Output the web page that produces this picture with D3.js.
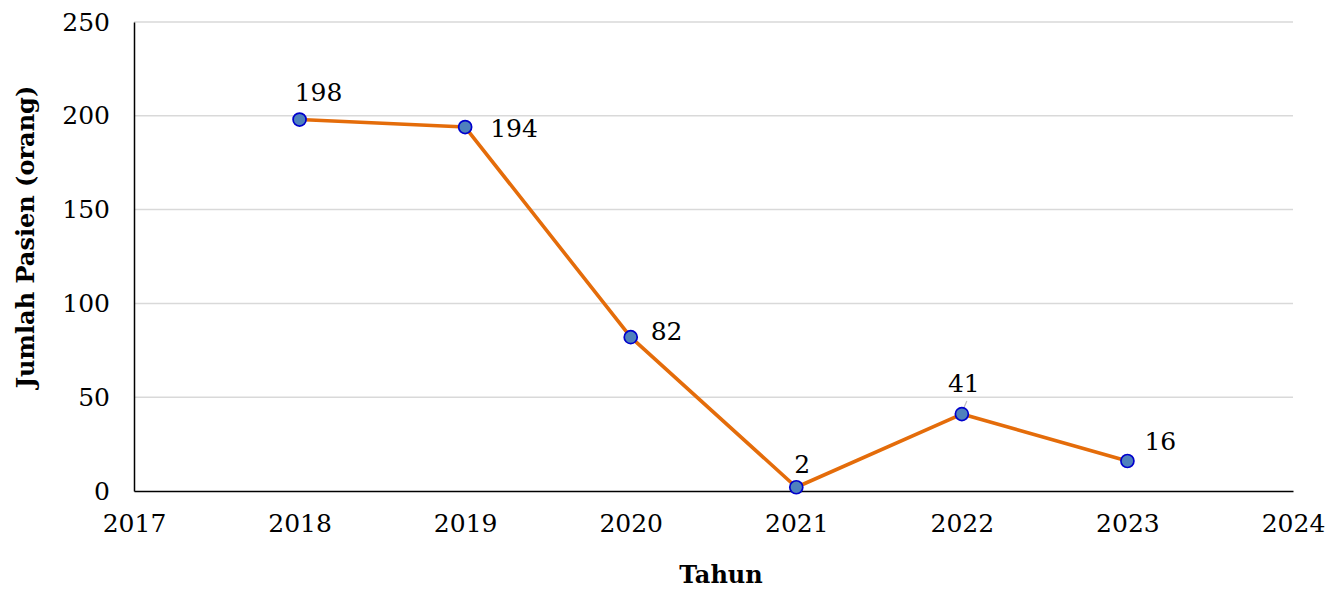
<!DOCTYPE html>
<html><head><meta charset="utf-8">
<script src="https://cdn.jsdelivr.net/npm/d3@7"></script>
<style>body{margin:0;background:#fff}svg{display:block}</style>
</head><body>
<svg id="c" width="1331" height="589"></svg>
<script>
const years = [2018, 2019, 2020, 2021, 2022, 2023];
const patients = [198, 194, 82, 2, 41, 16];
const xTicks = [2017, 2018, 2019, 2020, 2021, 2022, 2023, 2024];
const yTicks = [0, 50, 100, 150, 200, 250];

// label layout (offsets from point, in px), kept separate from data
const labelLayout = {
  2018: {dx: 19, dy: -18.5, anchor: "middle"},
  2019: {dx: 25, dy: 10, anchor: "start"},
  2020: {dx: 20, dy: 3, anchor: "start"},
  2021: {dx: 6, dy: -14, anchor: "middle"},
  2022: {dx: 2, dy: -22, anchor: "middle"},
  2023: {dx: 17, dy: -11, anchor: "start"}
};

const svg = d3.select("#c");
const font = "'DejaVu Serif', serif";
const fs = 25;
const L = 134, R = 1293, T = 22, B = 491;
const x = d3.scaleLinear().domain([2017, 2024]).range([L, R]);
const y = d3.scaleLinear().domain([0, 250]).range([B, T]);

// gridlines
svg.append("g").selectAll("line").data(yTicks.filter(d => d > 0)).join("line")
  .attr("x1", L).attr("x2", R).attr("y1", d => y(d)).attr("y2", d => y(d))
  .attr("stroke", "#d9d9d9").attr("stroke-width", 1.5);

// y axis
const ya = svg.append("g").attr("transform", `translate(${L},0)`)
  .call(d3.axisLeft(y).tickValues(yTicks).tickSize(0).tickPadding(24));
ya.select(".domain").attr("stroke", "#000").attr("stroke-width", 1.5);
ya.selectAll("text").attr("font-family", font).attr("font-size", fs).attr("fill", "#000");

// x axis
const xa = svg.append("g").attr("transform", `translate(0,${B})`)
  .call(d3.axisBottom(x).tickValues(xTicks).tickFormat(d3.format("d")).tickSize(0).tickPadding(23));
xa.select(".domain").attr("stroke", "#000").attr("stroke-width", 1.5);
xa.selectAll("text").attr("font-family", font).attr("font-size", fs).attr("fill", "#000");

const data = years.map((yr, i) => ({yr, v: patients[i]}));

// line
svg.append("path").datum(data)
  .attr("d", d3.line().x(d => x(d.yr)).y(d => y(d.v)))
  .attr("fill", "none").attr("stroke", "#e46c0a").attr("stroke-width", 3.6)
  .attr("stroke-linejoin", "round");

// leader line for 41
svg.append("line")
  .attr("x1", x(2022) + 1).attr("y1", y(41) - 4)
  .attr("x2", x(2022) + 5).attr("y2", y(41) - 13)
  .attr("stroke", "#bfbfbf").attr("stroke-width", 1.2);

// markers
svg.append("g").selectAll("circle").data(data).join("circle")
  .attr("cx", d => x(d.yr)).attr("cy", d => y(d.v)).attr("r", 6.5)
  .attr("fill", "#4f81bd").attr("stroke", "#0000cc").attr("stroke-width", 1.7);

// data labels
svg.append("g").selectAll("text").data(data).join("text")
  .attr("font-family", font).attr("font-size", fs).attr("fill", "#000")
  .attr("x", d => x(d.yr) + labelLayout[d.yr].dx)
  .attr("y", d => y(d.v) + labelLayout[d.yr].dy)
  .attr("text-anchor", d => labelLayout[d.yr].anchor)
  .text(d => d.v);

// axis titles
svg.append("text").attr("font-family", font).attr("font-weight", "bold").attr("font-size", 24)
  .attr("text-anchor", "middle").attr("transform", `translate(34,237) rotate(-90)`)
  .text("Jumlah Pasien (orang)");
svg.append("text").attr("font-family", font).attr("font-weight", "bold").attr("font-size", 24)
  .attr("text-anchor", "middle").attr("x", 721).attr("y", 583)
  .text("Tahun");
</script>
</body></html>
